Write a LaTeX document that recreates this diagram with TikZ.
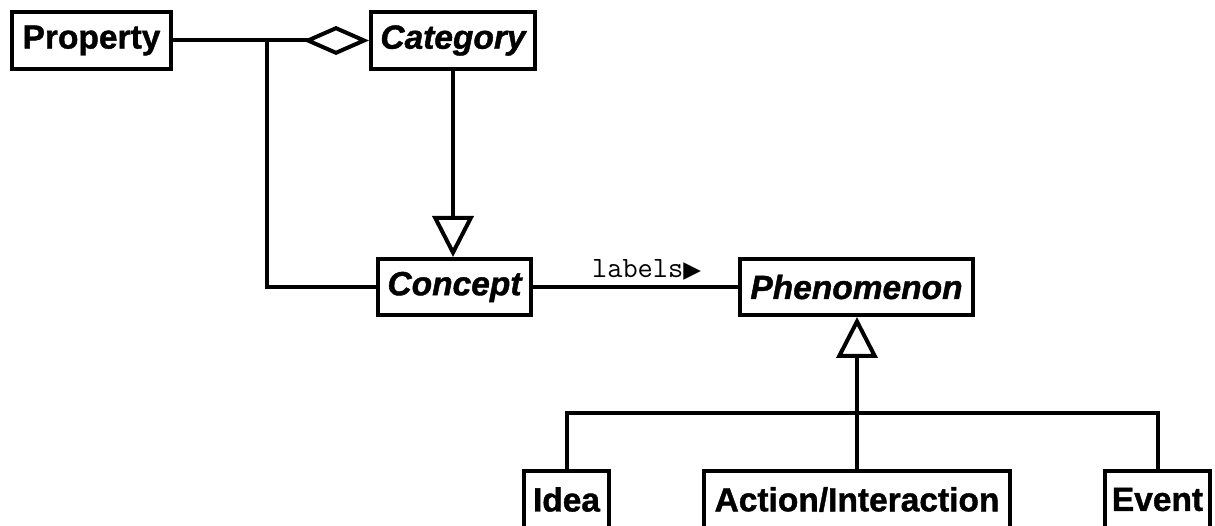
\documentclass[tikz,border=0pt]{standalone}
\usepackage{fontspec}
\setmainfont{Liberation Sans}
\newfontfamily\boxfont[FakeBold=1.2]{Liberation Sans Bold}
\newfontfamily\boxitfont[FakeBold=1.2]{Liberation Sans Bold Italic}
\newfontfamily\labelfont{Latin Modern Mono}
\newfontfamily\glyphfont{DejaVu Sans}
\usetikzlibrary{arrows.meta}

\tikzset{
  umlbox/.style={draw, line width=4pt, inner sep=0pt, fill=white,
    minimum height=57pt, font=\boxfont\fontsize{33.5}{40}\selectfont},
  abstractbox/.style={umlbox, font=\boxitfont\fontsize{33.5}{40}\selectfont},
  link/.style={line width=4pt},
  aggregation/.style={link, -{Diamond[fill=white, length=66pt, width=29pt]}},
  generalization/.style={link, -{Triangle[fill=white, length=41pt, width=41pt]}},
  assoclabel/.style={font=\labelfont\fontsize{29.5}{32}\selectfont, inner sep=0pt, anchor=base}
}

\begin{document}
\begin{tikzpicture}[x=1pt, y=-1pt]
  \clip (0,0) rectangle (1215,526);

  % classes
  \node[umlbox, minimum width=159pt] (prop) at (91.5,40.5) {Property};
  \node[abstractbox, minimum width=164pt] (cat) at (453,40.5) {Category};
  \node[abstractbox, minimum width=153pt, minimum height=56pt] (con) at (454.5,287) {Concept};
  \node[abstractbox, minimum width=233pt, minimum height=56pt] (phe) at (856.5,287) {Phenomenon};
  \node[umlbox, minimum width=85pt] (idea) at (566.5,499.5) {Idea};
  \node[umlbox, minimum width=306pt] (act) at (857,499.5) {Action/Interaction};
  \node[umlbox, minimum width=105pt] (evt) at (1157.5,499.5) {Event};

  % aggregation of properties into categories, shared with concepts
  \coordinate (split) at (267,40.5);
  \draw[aggregation] (prop.east) -- (cat.west);
  \draw[link] (split) |- (con.west);

  % category specialises concept
  \draw[generalization] (cat.south) -- (cat.south |- con.north);

  % concept labels phenomenon
  \draw[link] (con.east) -- (phe.west)
    node[assoclabel, pos=0.554, yshift=9pt] {labels{\glyphfont\fontsize{23}{24}\selectfont ▶}};

  % kinds of phenomenon
  \coordinate (bar) at (857,413);
  \draw[generalization] (bar) -- (bar |- phe.south);
  \draw[link] (idea.north) |- (bar) -| (evt.north);
  \draw[link] (act.north) -- (bar);
\end{tikzpicture}
\end{document}
